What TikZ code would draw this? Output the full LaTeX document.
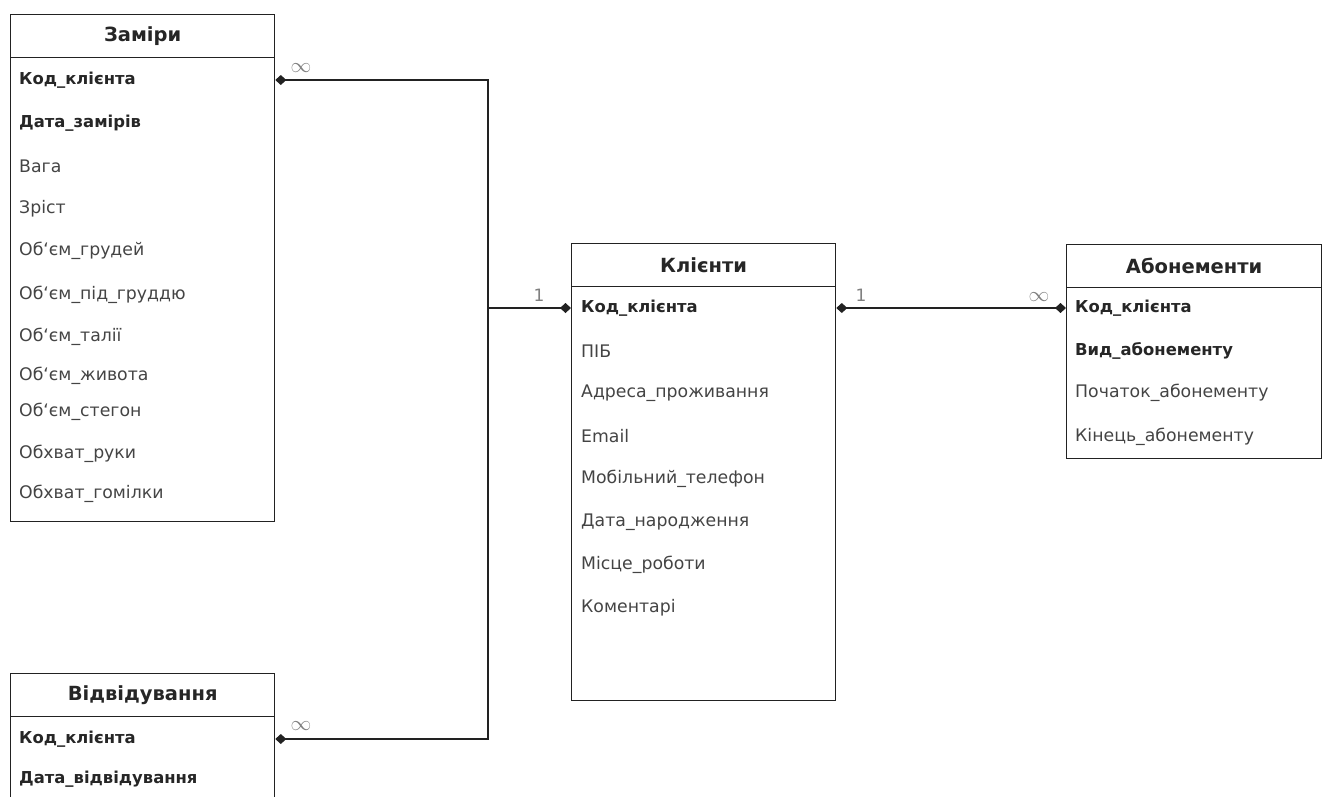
\documentclass[tikz,border=0pt]{standalone}
\usepackage{fontspec}
\setmainfont{DejaVu Sans}
\usetikzlibrary{arrows.meta,positioning}

\definecolor{tline}{HTML}{222222}
\definecolor{ftext}{HTML}{444444}
\newcommand{\bq}{{\char96}}

\tikzset{
  dmd/.tip={Diamond[length=11pt,width=10pt]},
  tblhead/.style={draw=tline, line width=1.3pt, anchor=north west, minimum height=43pt,
    inner sep=0pt, text=black!85, font=\bfseries\fontsize{19.5}{22}\selectfont},
  tblbody/.style={draw=tline, line width=1.3pt, anchor=north west, inner sep=0pt},
  fld/.style={anchor=west, inner sep=0pt, text=ftext, font=\fontsize{17.3}{20}\selectfont},
  keyfld/.style={fld, text=black!85, font=\bfseries\fontsize{16.4}{19}\selectfont},
  rel/.style={draw=tline, line width=1.3pt},
  card/.style={inner sep=0pt, text=black!50, font=\fontsize{17}{19}\selectfont}
}

\begin{document}
\begin{tikzpicture}[x=1pt, y=-1pt]
\useasboundingbox (0,0) rectangle (1322,796);

% Заміри
\node[tblhead, minimum width=264pt] (zamh) at (10,14) {Заміри};
\node[tblbody, minimum width=264pt, minimum height=464pt] (zamb) at (10,57) {};
\node[keyfld] (z1) at (19,80) {Код\_клієнта};
\node[keyfld] (z2) at (19,123) {Дата\_замірів};
\foreach \y/\t [count=\i from 3] in {166/Вага, 209/Зріст, 251/{Об\bq єм\_грудей},
    295/{Об\bq єм\_під\_груддю}, 337/{Об\bq єм\_талії}, 376/{Об\bq єм\_живота},
    412/{Об\bq єм\_стегон}, 454/{Обхват\_руки}, 494/{Обхват\_гомілки}}
  \node[fld] (z\i) at (19,\y) {\t};

% Відвідування
\node[tblhead, minimum width=264pt] (vidh) at (10,673) {Відвідування};
\node[tblbody, minimum width=264pt, minimum height=100pt] (vidb) at (10,716) {};
\node[keyfld] (v1) at (19,739) {Код\_клієнта};
\node[keyfld] (v2) at (19,779) {Дата\_відвідування};

% Клієнти
\node[tblhead, minimum width=264pt] (klh) at (571,243) {Клієнти};
\node[tblbody, minimum width=264pt, minimum height=414pt] (klb) at (571,286) {};
\node[keyfld] (k1) at (581,308) {Код\_клієнта};
\foreach \y/\t [count=\i from 2] in {351/ПІБ, 393/{Адреса\_проживання}, 436/Email,
    479/{Мобільний\_телефон}, 522/{Дата\_народження}, 565/{Місце\_роботи}, 608/Коментарі}
  \node[fld] (k\i) at (581,\y) {\t};

% Абонементи
\node[tblhead, minimum width=255pt] (abh) at (1066,244) {Абонементи};
\node[tblbody, minimum width=255pt, minimum height=171pt] (abb) at (1066,287) {};
\node[keyfld] (a1) at (1075,308) {Код\_клієнта};
\node[keyfld] (a2) at (1075,351) {Вид\_абонементу};
\node[fld] (a3) at (1075,393) {Початок\_абонементу};
\node[fld] (a4) at (1075,437) {Кінець\_абонементу};

% зв'язки
\coordinate (bus) at (488,308);
\draw[rel, dmd-] (zamb.east |- z1) -| (bus);
\draw[rel, dmd-] (vidb.east |- v1) -| (bus);
\draw[rel, -dmd] (bus) -- (klb.west |- k1);
\draw[rel, dmd-dmd] (klb.east |- k1) -- (abb.west |- a1);

\node[card, font=\fontsize{22}{22}\selectfont] (cz) at (301,68) {$\infty$};
\node[card, font=\fontsize{22}{22}\selectfont] (cv) at (301,726) {$\infty$};
\node[card] (ck1) at (539,295) {1};
\node[card] (ck2) at (861,295) {1};
\node[card, font=\fontsize{22}{22}\selectfont] (ca) at (1039,297) {$\infty$};
\end{tikzpicture}
\end{document}
